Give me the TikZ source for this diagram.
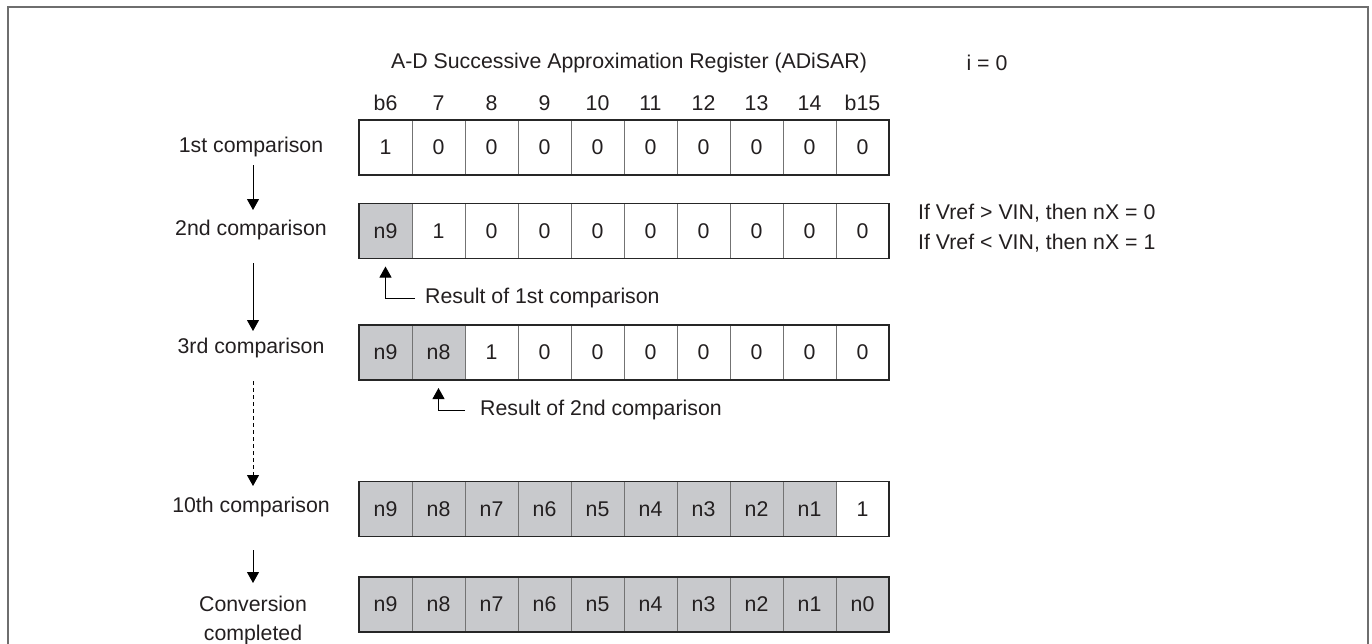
\documentclass[tikz,border=0pt]{standalone}
\usepackage{fontspec}
\setmainfont{Liberation Sans}
\usetikzlibrary{arrows.meta}
\definecolor{txt}{RGB}{35,31,32}
\definecolor{cellgray}{RGB}{200,201,204}
\definecolor{framegray}{RGB}{110,110,110}
\definecolor{divgray}{RGB}{115,115,115}
\begin{document}
\begin{tikzpicture}[x=1pt,y=-1pt,
  font=\fontsize{21.3}{29}\selectfont, text=txt,
  cell/.style={draw=divgray, line width=0.9pt, minimum width=53pt, minimum height=55pt,
    inner sep=0pt, outer sep=0pt, anchor=center},
  outerbox/.style={draw=black!85, line width=1.2pt},
  lbl/.style={inner sep=0pt, anchor=center},
  arr/.style={draw=black, line width=1pt, -{Triangle[width=12pt,length=11pt]}},
]
\useasboundingbox (0,0) rectangle (1372,643);
\fill[white] (0,0) rectangle (1372,643);
\draw[framegray, line width=2pt] (8,650) -- (8,7) -- (1368,7) -- (1368,650);

% title and column labels
\node[lbl] (title) at (629,63) {A-D Successive Approximation Register (ADiSAR)};
\node[lbl] (ival) at (987,63) {i = 0};
\foreach \t [count=\i from 0] in {b6,7,8,9,10,11,12,13,14,b15}
  \node[lbl] (col\i) at ({385.5+53*\i},103) {\t};

% row 1
\foreach \v [count=\i from 0] in {1,0,0,0,0,0,0,0,0,0}
  \node[cell] (ra\i) at ({385.5+53*\i},147.5) {\v};
\draw[outerbox] (ra0.north west) rectangle (ra9.south east);

% row 2
\foreach \v/\f [count=\i from 0] in {n9/cellgray,1/white,0/white,0/white,0/white,0/white,0/white,0/white,0/white,0/white}
  \node[cell, fill=\f] (rb\i) at ({385.5+53*\i},231) {\v};
\draw[outerbox] (rb0.north west) rectangle (rb9.south east);

% row 3
\foreach \v/\f [count=\i from 0] in {n9/cellgray,n8/cellgray,1/white,0/white,0/white,0/white,0/white,0/white,0/white,0/white}
  \node[cell, fill=\f] (rc\i) at ({385.5+53*\i},352.5) {\v};
\draw[outerbox] (rc0.north west) rectangle (rc9.south east);

% row 4
\foreach \v/\f [count=\i from 0] in {n9/cellgray,n8/cellgray,n7/cellgray,n6/cellgray,n5/cellgray,n4/cellgray,n3/cellgray,n2/cellgray,n1/cellgray,1/white}
  \node[cell, fill=\f] (rd\i) at ({385.5+53*\i},509) {\v};
\draw[outerbox] (rd0.north west) rectangle (rd9.south east);

% row 5
\foreach \v [count=\i from 0] in {n9,n8,n7,n6,n5,n4,n3,n2,n1,n0}
  \node[cell, fill=cellgray] (re\i) at ({385.5+53*\i},604.5) {\v};
\draw[outerbox] (re0.north west) rectangle (re9.south east);

% left labels
\node[lbl] (la) at (251,147) {1st comparison};
\node[lbl] (lb) at (251,230) {2nd comparison};
\node[lbl] (lc) at (251,348) {3rd comparison};
\node[lbl] (ld) at (251,507) {10th comparison};
\node[lbl, align=center] (le) at (253,620) {Conversion\\completed};

% flow arrows
\coordinate (a1s) at (253,165); \coordinate (a1e) at (253,210);
\coordinate (a2s) at (253,263); \coordinate (a2e) at (253,331);
\coordinate (a3s) at (253,381); \coordinate (a3e) at (253,486);
\coordinate (a4s) at (253,550); \coordinate (a4e) at (253,583);
\draw[arr] (a1s) -- (a1e);
\draw[arr] (a2s) -- (a2e);
\draw[arr, dash pattern=on 4pt off 3pt] (a3s) -- (a3e);
\draw[arr] (a4s) -- (a4e);

% right notes
\node[lbl, anchor=west] (n1) at (918,213) {If Vref > VIN, then nX = 0};
\node[lbl, anchor=west] (n2) at (918,243) {If Vref < VIN, then nX = 1};

% result pointers
\node[lbl, anchor=west] (res1) at (425,298) {Result of 1st comparison};
\draw[arr] ([xshift=-10pt]res1.west) -| ([yshift=-8pt]rb0.south);
\node[lbl, anchor=west] (res2) at (480,410) {Result of 2nd comparison};
\draw[arr] ([xshift=-15pt]res2.west) -| ([yshift=-8pt]rc1.south);
\end{tikzpicture}
\end{document}
